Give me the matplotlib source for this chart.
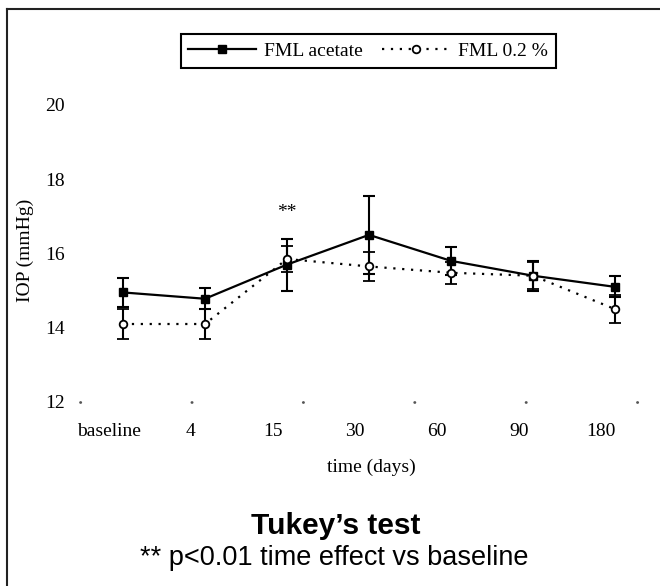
import matplotlib
matplotlib.use('Agg')
import matplotlib.pyplot as plt
from matplotlib.lines import Line2D
from matplotlib.transforms import ScaledTranslation
import numpy as np

days = ['baseline', '4', '15', '30', '60', '90', '180']
acetate = [14.95, 14.78, 15.70, 16.50, 15.80, 15.40, 15.10]
acetate_err = [0.38, 0.28, 0.70, 1.05, 0.37, 0.40, 0.28]
fml02 = [14.10, 14.10, 15.85, 15.65, 15.48, 15.40, 14.50]
fml02_err = [0.40, 0.40, 0.35, 0.38, 0.30, 0.37, 0.38]
yticks = [12, 14, 16, 18, 20]

serif = 'Liberation Serif'
sans = 'Liberation Sans'

fig = plt.figure(figsize=(6.6, 5.86), dpi=100)
ax = fig.add_axes([0.1212, 0.314, 0.848, 0.507])
x = np.arange(len(days))

solid_style = dict(color='black', linestyle='-', linewidth=1.6, marker='s',
                   markersize=6, markerfacecolor='black')
dot_style = dict(color='black', linestyle=(0, (1, 3)), linewidth=1.6, marker='o',
                 markersize=5.5, markerfacecolor='white', markeredgewidth=1.3)

ax.errorbar(x, acetate, yerr=acetate_err, capsize=4.5, elinewidth=1.5, capthick=1.5,
            **solid_style)
ax.errorbar(x, fml02, yerr=fml02_err, capsize=4.5, elinewidth=1.5, capthick=1.5,
            **dot_style)

ax.text(2.0, 17.1, '**', ha='center', va='center', fontsize=14, family=serif)

ax.set_xlim(-0.524, 6.3)
ax.set_ylim(12, 20)
ax.set_xticks(x)
ax.set_xticklabels(days, family=serif, fontsize=14)
ax.set_yticks(yticks)
ax.set_yticklabels([str(v) for v in yticks], family=serif, fontsize=14)
ax.tick_params(axis='both', length=0)
ax.tick_params(axis='y', pad=11)
ax.tick_params(axis='x', pad=15)
shift = ScaledTranslation(-0.14, 0, fig.dpi_scale_trans)
for lab in ax.get_xticklabels():
    lab.set_transform(lab.get_transform() + shift)

for s in ['top', 'right', 'left']:
    ax.spines[s].set_visible(False)
ax.spines['bottom'].set_color('#555555')
ax.spines['bottom'].set_linestyle((0, (0.1, 40)))
ax.spines['bottom'].set_linewidth(2)
ax.spines['bottom'].set_capstyle('round')

handles = [Line2D([], [], **solid_style), Line2D([], [], **dot_style)]
leg = ax.legend(handles, ['FML acetate', 'FML 0.2 %'], loc='center',
                bbox_to_anchor=(0.558, 0.913), bbox_transform=fig.transFigure,
                ncol=2, prop={'family': serif, 'size': 14}, fancybox=False,
                edgecolor='black', framealpha=1, handlelength=3.5, columnspacing=1.0,
                handletextpad=0.4, borderpad=0.4)
leg.get_frame().set_linewidth(1.5)

fig.text(0.038, 0.572, 'IOP (mmHg)', rotation=90, ha='center', va='center',
         family=serif, fontsize=14)
fig.text(0.562, 0.203, 'time (days)', ha='center', va='center', family=serif, fontsize=14)
fig.text(0.509, 0.102, 'Tukey\u2019s test', ha='center', va='center', family=sans,
         fontsize=21.5, fontweight='bold')
fig.text(0.507, 0.048, '** p<0.01 time effect vs baseline', ha='center', va='center',
         family=sans, fontsize=19.5)

# outer frame
fig.add_artist(Line2D([7 / 660, 1.0], [1 - 9 / 586, 1 - 9 / 586], transform=fig.transFigure,
                      color='#222222', linewidth=1.5))
fig.add_artist(Line2D([7 / 660, 7 / 660], [0.0, 1 - 9 / 586], transform=fig.transFigure,
                      color='#222222', linewidth=1.5))

plt.savefig('out.png', dpi=100)
